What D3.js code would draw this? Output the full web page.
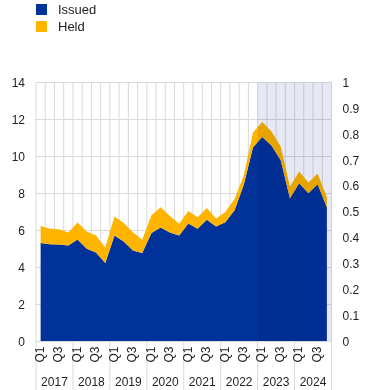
<!DOCTYPE html>
<html>
<head>
<meta charset="utf-8">
<script src="https://cdn.jsdelivr.net/npm/d3@7/dist/d3.min.js"></script>
<style>
  html, body { margin: 0; padding: 0; background: #fff; }
  svg { display: block; font-family: "Liberation Sans", Arial, sans-serif; }
</style>
</head>
<body>
<svg id="chart" width="372" height="390"></svg>
<script>
// ---- data ----
const years = ["2017", "2018", "2019", "2020", "2021", "2022", "2023", "2024"];
const quarters = ["Q1", "Q2", "Q3", "Q4"];
const issued = [5.32, 5.26, 5.25, 5.19, 5.51, 5.01, 4.81, 4.24,
                5.73, 5.41, 4.92, 4.78, 5.86, 6.16, 5.89, 5.73,
                6.38, 6.09, 6.58, 6.22, 6.45, 7.10, 8.47, 10.50,
                11.05, 10.60, 9.80, 7.75, 8.56, 8.02, 8.50, 7.25];
const held   = [0.93, 0.83, 0.82, 0.70, 0.92, 0.94, 0.92, 0.84,
                1.03, 0.99, 0.99, 0.72, 0.97, 1.10, 0.90, 0.63,
                0.67, 0.63, 0.63, 0.43, 0.55, 0.60, 0.51, 0.80,
                0.82, 0.75, 0.74, 0.63, 0.63, 0.58, 0.58, 0.55];
const leftTicks = [0, 2, 4, 6, 8, 10, 12, 14];
const rightTicks = [0, 0.1, 0.2, 0.3, 0.4, 0.5, 0.6, 0.7, 0.8, 0.9, 1];
const seriesNames = ["Issued", "Held"];
const shadeFrom = "2023 Q1";

// ---- layout ----
const colors = { Issued: "#003299", Held: "#ffb400" };
const L = 36, R = 331.5, T = 82.5, B = 341.5;
const svg = d3.select("#chart");

const periods = [];
years.forEach(y => quarters.forEach(q => periods.push(y + " " + q)));
const rows = periods.map((p, i) => ({ period: p, Issued: issued[i], Held: held[i] }));

const x = d3.scaleBand().domain(periods).range([L, R]).paddingInner(0).paddingOuter(0);
const y = d3.scaleLinear().domain([0, 14]).range([B, T]);
const y2 = d3.scaleLinear().domain([0, 1]).range([B, T]);
const cx = p => x(p) + x.bandwidth() / 2;

const grid = "#d9d9d9";
// horizontal gridlines
svg.append("g").selectAll("line").data(leftTicks).join("line")
  .attr("x1", L).attr("x2", R)
  .attr("y1", d => y(d)).attr("y2", d => y(d))
  .attr("stroke", grid).attr("stroke-width", 1);
// vertical gridlines at each quarter boundary
const bounds = periods.map(p => x(p)).concat([R]);
svg.append("g").selectAll("line").data(bounds).join("line")
  .attr("x1", d => d).attr("x2", d => d)
  .attr("y1", T).attr("y2", B)
  .attr("stroke", grid).attr("stroke-width", 1);

// stacked areas
const stack = d3.stack().keys(seriesNames);
const stacked = stack(rows);
const area = d3.area()
  .x(d => cx(d.data.period))
  .y0(d => y(d[0]))
  .y1(d => y(d[1]));
svg.append("g").selectAll("path").data(stacked).join("path")
  .attr("d", area)
  .attr("fill", d => colors[d.key]);

// shaded projection region (multiply blend)
svg.append("rect")
  .attr("x", x(shadeFrom)).attr("y", T)
  .attr("width", R - x(shadeFrom)).attr("height", B - T)
  .attr("fill", "#e6e9f3")
  .style("mix-blend-mode", "multiply");

// bottom axis line
svg.append("line").attr("x1", L).attr("x2", R).attr("y1", B).attr("y2", B)
  .attr("stroke", grid);

// year separators below axis
const yearBounds = years.map(yr => x(yr + " Q1")).concat([R]);
svg.append("g").selectAll("line").data(yearBounds).join("line")
  .attr("x1", d => d).attr("x2", d => d)
  .attr("y1", B).attr("y2", 390)
  .attr("stroke", grid);

// left axis
const leftAxis = d3.axisLeft(y).tickValues(leftTicks).tickSize(0).tickPadding(0).tickFormat(d3.format("d"));
const gl = svg.append("g").attr("transform", `translate(${L - 11},0)`).call(leftAxis);
gl.select(".domain").remove();
gl.selectAll("text").attr("font-size", 12).attr("fill", "#222").attr("font-family", "Liberation Sans, Arial, sans-serif");

// right axis
const rightAxis = d3.axisRight(y2).tickValues(rightTicks).tickSize(0).tickPadding(0).tickFormat(d => d3.format("")(+d.toFixed(1)));
const gr = svg.append("g").attr("transform", `translate(${R + 11},0)`).call(rightAxis);
gr.select(".domain").remove();
gr.selectAll("text").attr("font-size", 12).attr("fill", "#222").attr("font-family", "Liberation Sans, Arial, sans-serif");

// quarter labels (Q1, Q3), rotated
const qLabels = periods.filter(p => p.endsWith("Q1") || p.endsWith("Q3"));
svg.append("g").selectAll("text").data(qLabels).join("text")
  .attr("transform", p => `translate(${cx(p) - 1},${B + 5}) rotate(-90)`)
  .attr("text-anchor", "end")
  .attr("dy", "0.35em")
  .attr("font-size", 12).attr("fill", "#222")
  .text(p => p.split(" ")[1]);

// year labels
svg.append("g").selectAll("text").data(years).join("text")
  .attr("x", yr => x(yr + " Q1") + 2 * x.bandwidth())
  .attr("y", 386)
  .attr("text-anchor", "middle")
  .attr("font-size", 12).attr("fill", "#222")
  .text(yr => yr);

// legend
const lg = svg.append("g");
seriesNames.forEach((s, i) => {
  lg.append("rect").attr("x", 36).attr("y", 4 + i * 17).attr("width", 11).attr("height", 11)
    .attr("fill", colors[s]);
  lg.append("text").attr("x", 58).attr("y", 14 + i * 17)
    .attr("font-size", 13).attr("fill", "#222").text(s);
});
</script>
</body>
</html>
